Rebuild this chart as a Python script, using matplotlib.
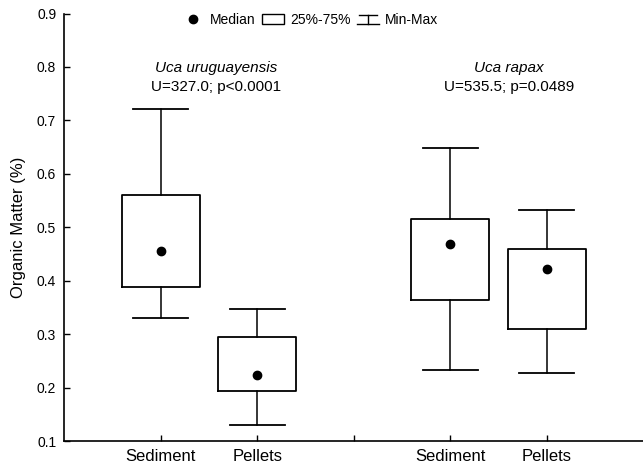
import matplotlib.pyplot as plt
from matplotlib.lines import Line2D
from matplotlib.patches import Rectangle
from matplotlib.legend_handler import HandlerBase

plt.rcParams['font.family'] = ['Liberation Sans', 'DejaVu Sans']

# box statistics
positions = [1, 2, 4, 5]
labels = ['Sediment', 'Pellets', 'Sediment', 'Pellets']
medians = [0.456, 0.224, 0.469, 0.422]
q1 = [0.388, 0.194, 0.364, 0.310]
q3 = [0.561, 0.295, 0.516, 0.459]
mins = [0.330, 0.130, 0.233, 0.227]
maxs = [0.721, 0.347, 0.648, 0.532]

species = ['Uca uruguayensis', 'Uca rapax']
tests = ['U=327.0; p<0.0001', 'U=535.5; p=0.0489']


class MinMaxHandler(HandlerBase):
    def create_artists(self, legend, orig_handle, x0, y0, width, height, fontsize, trans):
        cx = x0 + width / 2
        top = y0 + height * 0.95
        bot = y0 + height * 0.05
        lines = [
            Line2D([x0 + width * 0.1, x0 + width * 0.9], [top, top]),
            Line2D([cx, cx], [bot, top]),
            Line2D([x0, x0 + width], [bot, bot]),
        ]
        for ln in lines:
            ln.set_color('black')
            ln.set_linewidth(1.0)
            ln.set_transform(trans)
        return lines


def plot_boxes():
    fig = plt.figure(figsize=(6.43, 4.69), dpi=100)
    ax = fig.add_axes([0.1003, 0.0597, 0.8997, 0.9115])

    stats = []
    for i in range(len(positions)):
        stats.append(dict(med=medians[i], q1=q1[i], q3=q3[i],
                          whislo=mins[i], whishi=maxs[i], fliers=[]))

    ax.bxp(stats, positions=positions, widths=0.81, showfliers=False,
           boxprops=dict(color='black', linewidth=1.3),
           whiskerprops=dict(color='black', linewidth=1.1),
           capprops=dict(color='black', linewidth=1.3),
           medianprops=dict(visible=False),
           capwidths=0.57)
    ax.plot(positions, medians, 'o', color='black', markersize=6, zorder=3)

    # species titles
    ax.text(1.57, 0.798, species[0], style='italic', ha='center', va='center', fontsize=11)
    ax.text(1.57, 0.762, tests[0], ha='center', va='center', fontsize=11)
    ax.text(4.61, 0.798, species[1], style='italic', ha='center', va='center', fontsize=11)
    ax.text(4.61, 0.762, tests[1], ha='center', va='center', fontsize=11)

    # legend
    h_med = Line2D([], [], marker='o', color='black', linestyle='none', markersize=6)
    h_box = Rectangle((0, 0), 1, 1, facecolor='white', edgecolor='black', linewidth=1.0)
    h_mm = object()
    ax.legend([h_med, h_box, h_mm], ['Median', '25%-75%', 'Min-Max'],
              handler_map={h_mm: MinMaxHandler()},
              loc='center', bbox_to_anchor=(0.482, 0.957), bbox_transform=fig.transFigure,
              ncol=3, frameon=False, fontsize=10, handlelength=1.6, handletextpad=0.4,
              columnspacing=0.5, borderpad=0)

    ax.set_xlim(0, 6)
    ax.set_ylim(0.1, 0.9)
    ax.set_xticks([1, 2, 3, 4, 5])
    ax.set_xticklabels(labels[:2] + [''] + labels[2:], fontsize=12)
    ax.set_yticks([0.1, 0.2, 0.3, 0.4, 0.5, 0.6, 0.7, 0.8, 0.9])
    ax.set_yticklabels(['0.1', '0.2', '0.3', '0.4', '0.5', '0.6', '0.7', '0.8', '0.9'], fontsize=10)
    ax.tick_params(direction='in', length=4, width=1, pad=6)
    ax.set_ylabel('Organic Matter (%)', fontsize=12, labelpad=8)
    ax.spines['top'].set_visible(False)
    ax.spines['right'].set_visible(False)
    ax.spines['left'].set_linewidth(1.2)
    ax.spines['bottom'].set_linewidth(1.2)

    fig.savefig('out.png', dpi=100)


if __name__ == '__main__':
    plot_boxes()
